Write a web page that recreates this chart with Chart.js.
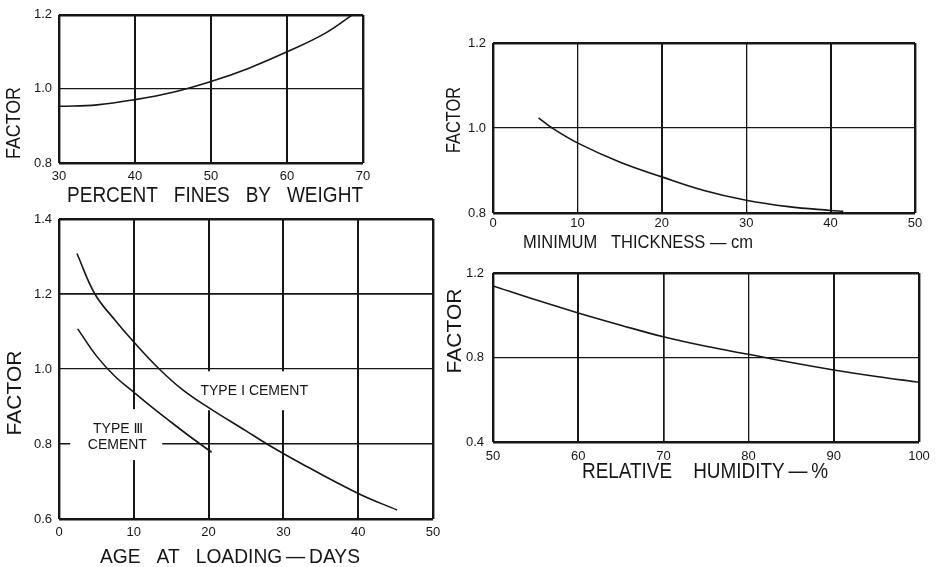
<!DOCTYPE html>
<html>
<head>
<meta charset="utf-8">
<title>Creep factors</title>
<script src="https://cdn.jsdelivr.net/npm/chart.js@4.4.1/dist/chart.umd.min.js"></script>
<style>
  body { margin: 0; background: #fff; }
  #page { position: relative; width: 938px; height: 567px; }
  #page canvas { position: absolute; left: 0; top: 0; }
</style>
</head>
<body>
<div id="page">
  <canvas id="finesChart" width="938" height="567"></canvas>
  <canvas id="ageChart" width="938" height="567"></canvas>
  <canvas id="thickChart" width="938" height="567"></canvas>
  <canvas id="humidityChart" width="938" height="567"></canvas>
</div>
<script>
// values

// percent fines by weight
const finesX = [30, 35, 40, 45, 50, 55, 60, 65, 68.6];
const finesY = [0.953, 0.957, 0.971, 0.991, 1.02, 1.056, 1.10, 1.15, 1.2];
const finesTicksX = [30, 40, 50, 60, 70];
const finesTicksY = [0.8, 1.0, 1.2];

// age at loading, type I and type III cement
const typeOneX = [2.4, 4.8, 7.5, 10, 13.4, 16.5, 20, 25, 27.8, 32.2, 40, 45.2];
const typeOneY = [1.308, 1.2, 1.13, 1.072, 1.0, 0.945, 0.897, 0.835, 0.8, 0.75, 0.668, 0.624];
const typeThreeX = [2.5, 5, 7.5, 10, 12.5, 15, 17.5, 20.4];
const typeThreeY = [1.107, 1.035, 0.98, 0.938, 0.897, 0.858, 0.82, 0.778];
const ageTicksX = [0, 10, 20, 30, 40, 50];
const ageTicksY = [0.6, 0.8, 1.0, 1.2, 1.4];

// minimum thickness
const thickX = [5.4, 7, 10, 15, 20, 25, 30, 35, 40, 41.5];
const thickY = [1.024, 1.0, 0.965, 0.92, 0.885, 0.853, 0.83, 0.815, 0.806, 0.804];
const thickTicksX = [0, 10, 20, 30, 40, 50];
const thickTicksY = [0.8, 1.0, 1.2];

// relative humidity
const humidityX = [50, 55, 60, 65, 70, 75, 80, 85, 90, 95, 100];
const humidityY = [1.139, 1.073, 1.011, 0.953, 0.898, 0.853, 0.815, 0.776, 0.741, 0.71, 0.683];
const humidityTicksX = [50, 60, 70, 80, 90, 100];
const humidityTicksY = [0.4, 0.8, 1.2];

const INK = '#161616';
const FONT = '"Liberation Sans", Arial, "DejaVu Sans", sans-serif';
const FRAME = 2.4;

Chart.defaults.font.family = FONT;
Chart.defaults.color = INK;

// axis captions and notes, plus white patches where the grid is broken
const captionPlugin = {
    id: 'captions',
    beforeDatasetsDraw(chart, args, opts) {
        const {ctx, scales} = chart;
        (opts.blank || []).forEach(b => {
            const x1 = scales.x.getPixelForValue(b[0]);
            const x2 = scales.x.getPixelForValue(b[1]);
            const y1 = scales.y.getPixelForValue(b[3]);
            const y2 = scales.y.getPixelForValue(b[2]);
            ctx.save();
            ctx.fillStyle = '#fff';
            ctx.fillRect(x1, y1, x2 - x1, y2 - y1);
            ctx.restore();
        });
    },
    afterDraw(chart, args, opts) {
        const {ctx, scales} = chart;
        (opts.items || []).forEach(it => {
            let x = it.x, y = it.y;
            if (it.data) {
                x = scales.x.getPixelForValue(it.x);
                y = scales.y.getPixelForValue(it.y);
            }
            ctx.save();
            ctx.font = it.size + 'px ' + FONT;
            ctx.fillStyle = INK;
            ctx.textAlign = 'center';
            ctx.textBaseline = 'middle';
            ctx.translate(x, y);
            if (it.rot) ctx.rotate(it.rot);
            ctx.fillText(it.text, 0, 0, it.w);
            ctx.restore();
        });
    }
};

function isEdge(c) {
    return c.index === 0 || c.index === c.scale.ticks.length - 1;
}

function crearGrafica(id, box, cfg) {
    const yW = 50, xH = 30;
    return new Chart(document.getElementById(id), {
        type: 'line',
        data: {
            datasets: cfg.series.map(s => ({
                data: s.x.map((x, i) => ({x: x, y: s.y[i]})),
                borderColor: INK,
                borderWidth: 1.6,
                pointRadius: 0,
                tension: 0.4,
                fill: false
            }))
        },
        options: {
            responsive: false,
            animation: false,
            devicePixelRatio: 1,
            events: [],
            layout: {
                padding: {
                    left: box.left - yW,
                    top: box.top,
                    right: 938 - box.right,
                    bottom: 567 - box.bottom - xH
                }
            },
            plugins: {
                legend: {display: false},
                tooltip: {enabled: false},
                captions: {items: cfg.captions, blank: cfg.blank || []}
            },
            scales: {
                x: {
                    type: 'linear',
                    min: cfg.xTicks[0],
                    max: cfg.xTicks[cfg.xTicks.length - 1],
                    afterFit: s => { s.height = xH; },
                    afterBuildTicks: s => { s.ticks = cfg.xTicks.map(v => ({value: v})); },
                    border: {display: false},
                    grid: {
                        color: INK,
                        drawTicks: false,
                        lineWidth: c => isEdge(c) ? FRAME : cfg.xGrid[c.index]
                    },
                    ticks: {
                        padding: cfg.xPad,
                        font: {size: 13},
                        color: INK,
                        maxRotation: 0,
                        autoSkip: false,
                        callback: v => String(v)
                    }
                },
                y: {
                    type: 'linear',
                    min: cfg.yTicks[0],
                    max: cfg.yTicks[cfg.yTicks.length - 1],
                    afterFit: s => { s.width = yW; },
                    afterBuildTicks: s => { s.ticks = cfg.yTicks.map(v => ({value: v})); },
                    border: {display: false},
                    grid: {
                        color: INK,
                        drawTicks: false,
                        lineWidth: c => isEdge(c) ? FRAME : cfg.yGrid[c.index]
                    },
                    ticks: {
                        padding: cfg.yPad,
                        font: {size: 13},
                        color: INK,
                        autoSkip: false,
                        callback: v => Number(v).toFixed(1)
                    }
                }
            }
        },
        plugins: [captionPlugin]
    });
}

const UP = -Math.PI / 2;

crearGrafica('finesChart', {left: 59, top: 11, right: 363, bottom: 163}, {
    series: [{x: finesX, y: finesY}],
    xTicks: finesTicksX, yTicks: finesTicksY,
    xGrid: [0, 2, 2, 2, 0], yGrid: [0, 1.3, 0],
    xPad: 6, yPad: 7,
    captions: [
        {text: 'FACTOR', x: 14.5, y: 123, size: 20, w: 72, rot: UP},
        {text: 'PERCENT   FINES   BY   WEIGHT', x: 215, y: 196, size: 22, w: 296}
    ]
});

crearGrafica('ageChart', {left: 59, top: 219, right: 433, bottom: 519}, {
    series: [{x: typeOneX, y: typeOneY}, {x: typeThreeX, y: typeThreeY}],
    xTicks: ageTicksX, yTicks: ageTicksY,
    xGrid: [0, 2, 2, 2, 2, 0], yGrid: [0, 1.4, 1.2, 1.8, 0],
    xPad: 6, yPad: 7,
    blank: [[17.5, 35, 0.89, 0.994], [1.5, 13.8, 0.757, 0.893]],
    captions: [
        {text: 'FACTOR', x: 15.5, y: 393, size: 21, w: 93, rot: UP},
        {text: 'AGE   AT   LOADING\u2009\u2014\u2009DAYS', x: 230, y: 557.5, size: 21, w: 260},
        {text: 'TYPE \u2160 CEMENT', x: 26.1, y: 0.941, size: 14, w: 118, data: true},
        {text: 'TYPE \u2162', x: 7.9, y: 0.84, size: 14, w: 60, data: true},
        {text: 'CEMENT', x: 7.8, y: 0.796, size: 14, w: 60, data: true}
    ]
});

crearGrafica('thickChart', {left: 493, top: 43, right: 915, bottom: 213}, {
    series: [{x: thickX, y: thickY}],
    xTicks: thickTicksX, yTicks: thickTicksY,
    xGrid: [0, 1.3, 2, 1.3, 2, 0], yGrid: [0, 1.2, 0],
    xPad: 3, yPad: 7,
    captions: [
        {text: 'FACTOR', x: 454.5, y: 120, size: 20, w: 66, rot: UP},
        {text: 'MINIMUM   THICKNESS \u2014 cm', x: 638, y: 243.5, size: 18, w: 230}
    ]
});

crearGrafica('humidityChart', {left: 493, top: 273, right: 919, bottom: 442}, {
    series: [{x: humidityX, y: humidityY}],
    xTicks: humidityTicksX, yTicks: humidityTicksY,
    xGrid: [0, 2, 1.7, 1.3, 2, 0], yGrid: [0, 1.3, 0],
    xPad: 7, yPad: 9,
    captions: [
        {text: 'FACTOR', x: 455, y: 331, size: 21, w: 92, rot: UP},
        {text: 'RELATIVE    HUMIDITY\u2009\u2014\u2009%', x: 705, y: 471.5, size: 22, w: 246}
    ]
});
</script>
</body>
</html>
